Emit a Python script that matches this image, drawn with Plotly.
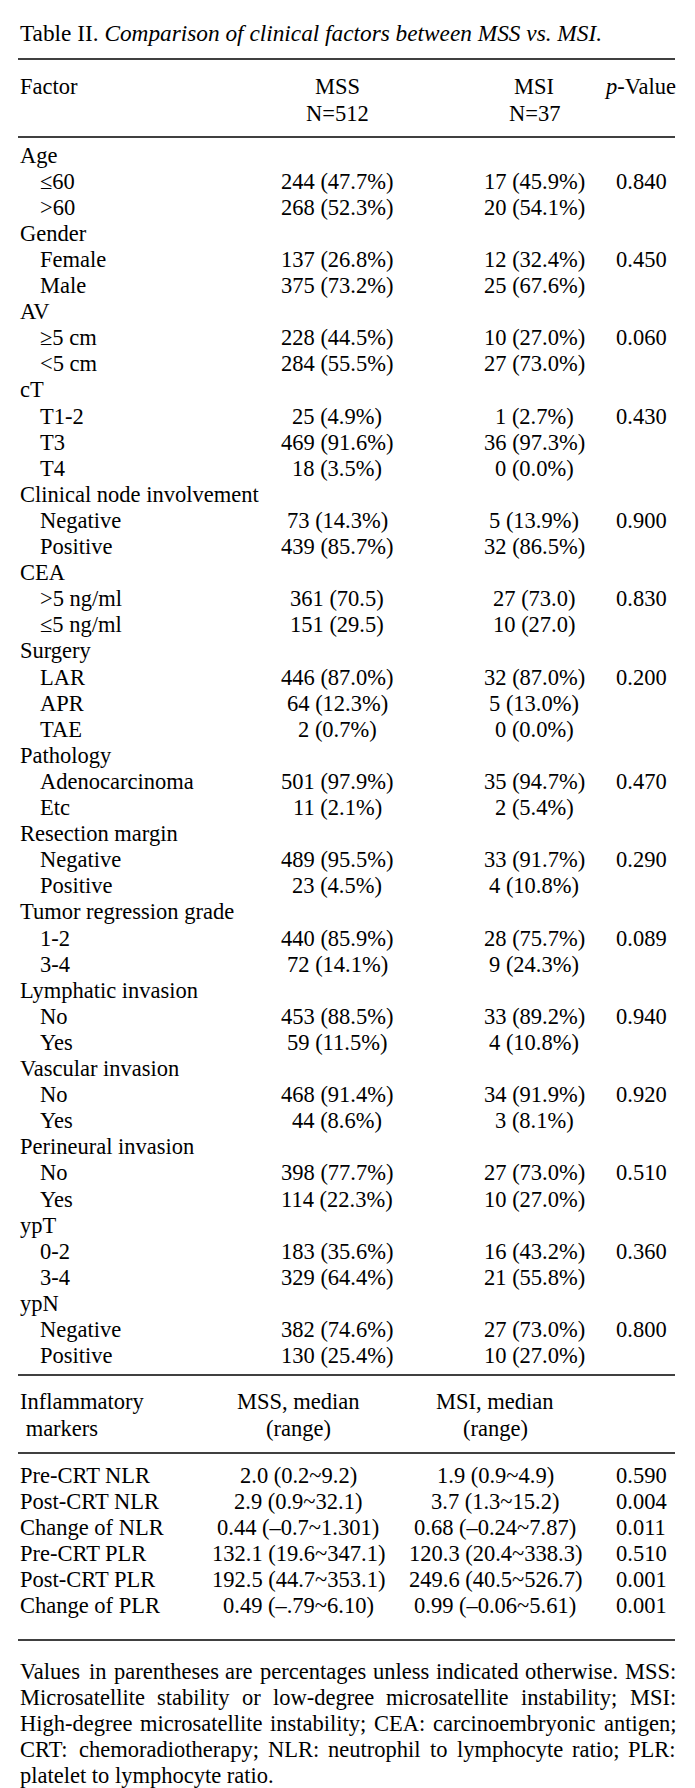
import plotly.graph_objects as go

# ---------------- data ----------------
title_plain = "Table II. "
title_italic = "Comparison of clinical factors between MSS vs. MSI."

header_factor = "Factor"
header_mss = ["MSS", "N=512"]
header_msi = ["MSI", "N=37"]
header_p = "<i>p</i>-Value"

factor_labels = ["Age", "≤60", ">60", "Gender", "Female", "Male", "AV", "≥5 cm", "<5 cm",
                 "cT", "T1-2", "T3", "T4", "Clinical node involvement", "Negative", "Positive",
                 "CEA", ">5 ng/ml", "≤5 ng/ml", "Surgery", "LAR", "APR", "TAE",
                 "Pathology", "Adenocarcinoma", "Etc", "Resection margin", "Negative", "Positive",
                 "Tumor regression grade", "1-2", "3-4", "Lymphatic invasion", "No", "Yes",
                 "Vascular invasion", "No", "Yes", "Perineural invasion", "No", "Yes",
                 "ypT", "0-2", "3-4", "ypN", "Negative", "Positive"]
is_group = [1, 0, 0, 1, 0, 0, 1, 0, 0,
            1, 0, 0, 0, 1, 0, 0,
            1, 0, 0, 1, 0, 0, 0,
            1, 0, 0, 1, 0, 0,
            1, 0, 0, 1, 0, 0,
            1, 0, 0, 1, 0, 0,
            1, 0, 0, 1, 0, 0]
mss_values = ["", "244 (47.7%)", "268 (52.3%)", "", "137 (26.8%)", "375 (73.2%)", "", "228 (44.5%)", "284 (55.5%)",
              "", "25 (4.9%)", "469 (91.6%)", "18 (3.5%)", "", "73 (14.3%)", "439 (85.7%)",
              "", "361 (70.5)", "151 (29.5)", "", "446 (87.0%)", "64 (12.3%)", "2 (0.7%)",
              "", "501 (97.9%)", "11 (2.1%)", "", "489 (95.5%)", "23 (4.5%)",
              "", "440 (85.9%)", "72 (14.1%)", "", "453 (88.5%)", "59 (11.5%)",
              "", "468 (91.4%)", "44 (8.6%)", "", "398 (77.7%)", "114 (22.3%)",
              "", "183 (35.6%)", "329 (64.4%)", "", "382 (74.6%)", "130 (25.4%)"]
msi_values = ["", "17 (45.9%)", "20 (54.1%)", "", "12 (32.4%)", "25 (67.6%)", "", "10 (27.0%)", "27 (73.0%)",
              "", "1 (2.7%)", "36 (97.3%)", "0 (0.0%)", "", "5 (13.9%)", "32 (86.5%)",
              "", "27 (73.0)", "10 (27.0)", "", "32 (87.0%)", "5 (13.0%)", "0 (0.0%)",
              "", "35 (94.7%)", "2 (5.4%)", "", "33 (91.7%)", "4 (10.8%)",
              "", "28 (75.7%)", "9 (24.3%)", "", "33 (89.2%)", "4 (10.8%)",
              "", "34 (91.9%)", "3 (8.1%)", "", "27 (73.0%)", "10 (27.0%)",
              "", "16 (43.2%)", "21 (55.8%)", "", "27 (73.0%)", "10 (27.0%)"]
p_values = ["", "0.840", "", "", "0.450", "", "", "0.060", "",
            "", "0.430", "", "", "", "0.900", "",
            "", "0.830", "", "", "0.200", "", "",
            "", "0.470", "", "", "0.290", "",
            "", "0.089", "", "", "0.940", "",
            "", "0.920", "", "", "0.510", "",
            "", "0.360", "", "", "0.800", ""]

infl_header = ["Inflammatory", " markers"]
infl_mss_header = ["MSS, median", "(range)"]
infl_msi_header = ["MSI, median", "(range)"]
marker_labels = ["Pre-CRT NLR", "Post-CRT NLR", "Change of NLR", "Pre-CRT PLR", "Post-CRT PLR", "Change of PLR"]
mss_median = ["2.0 (0.2~9.2)", "2.9 (0.9~32.1)", "0.44 (–0.7~1.301)", "132.1 (19.6~347.1)",
              "192.5 (44.7~353.1)", "0.49 (–.79~6.10)"]
msi_median = ["1.9 (0.9~4.9)", "3.7 (1.3~15.2)", "0.68 (–0.24~7.87)", "120.3 (20.4~338.3)",
              "249.6 (40.5~526.7)", "0.99 (–0.06~5.61)"]
marker_p = ["0.590", "0.004", "0.011", "0.510", "0.001", "0.001"]

footnote_lines = [
    "Values in parentheses are percentages unless indicated otherwise. MSS:",
    "Microsatellite stability or low-degree microsatellite instability; MSI:",
    "High-degree microsatellite instability; CEA: carcinoembryonic antigen;",
    "CRT: chemoradiotherapy; NLR: neutrophil to lymphocyte ratio; PLR:",
    "platelet to lymphocyte ratio.",
]

# ---------------- layout ----------------
W, H = 695, 1788
FONT = "Liberation Serif, Times New Roman, serif"
FS = 22.5
FS_TITLE = 23.3
X_LEFT, X_INDENT = 20, 40
X_RIGHT = 676
X_MSS, X_MSI, X_P = 337, 534, 641
X_MSS2, X_MSI2 = 298, 495
LINE_X0, LINE_X1 = 18, 675

# Times-Roman advance widths (1/1000 em) used to justify footnote lines
_TW = {" ": 250, ".": 250, ",": 250, ":": 278, ";": 278, "-": 333, "(": 333, ")": 333,
       "A": 722, "C": 667, "E": 611, "H": 722, "I": 333, "L": 611, "M": 889, "N": 722,
       "P": 556, "R": 667, "S": 556, "T": 611, "V": 722,
       "a": 444, "b": 500, "c": 444, "d": 500, "e": 444, "f": 333, "g": 500, "h": 500,
       "i": 278, "j": 278, "k": 500, "l": 278, "m": 778, "n": 500, "o": 500, "p": 500,
       "q": 500, "r": 333, "s": 389, "t": 278, "u": 500, "v": 500, "w": 722, "x": 500,
       "y": 500, "z": 444}


def text_width(s, size):
    return sum(_TW.get(c, 500) for c in s) * size / 1000.0


ann = []


def txt(x, y, s, anchor="left", size=FS):
    ann.append(dict(x=x, y=y, xref="x", yref="y", text=s, showarrow=False,
                    xanchor=anchor, yanchor="middle", align=anchor,
                    borderpad=0, borderwidth=0,
                    font=dict(family=FONT, size=size, color="black")))


# title
txt(X_LEFT, 33, title_plain + "<i>" + title_italic + "</i>", size=FS_TITLE)

# header
txt(X_LEFT, 86, header_factor)
txt(X_MSS, 86, header_mss[0], "center")
txt(X_MSS, 113, header_mss[1], "center")
txt(X_MSI, 86, header_msi[0], "center")
txt(X_MSI, 113, header_msi[1], "center")
txt(X_RIGHT, 86, header_p, "right")

# body
y0, step = 155, 26.1
for i, lab in enumerate(factor_labels):
    y = y0 + i * step
    txt(X_LEFT if is_group[i] else X_INDENT, y, lab)
    if mss_values[i]:
        txt(X_MSS, y, mss_values[i], "center")
    if msi_values[i]:
        txt(X_MSI, y, msi_values[i], "center")
    if p_values[i]:
        txt(X_P, y, p_values[i], "center")

# inflammatory header
txt(X_LEFT, 1401, infl_header[0])
txt(X_LEFT, 1428, infl_header[1])
txt(X_MSS2, 1401, infl_mss_header[0], "center")
txt(X_MSS2, 1428, infl_mss_header[1], "center")
txt(X_MSI2, 1401, infl_msi_header[0], "center")
txt(X_MSI2, 1428, infl_msi_header[1], "center")

y1, step2 = 1475, 26
for i, lab in enumerate(marker_labels):
    y = y1 + i * step2
    txt(X_LEFT, y, lab)
    txt(X_MSS2, y, mss_median[i], "center")
    txt(X_MSI2, y, msi_median[i], "center")
    txt(X_P, y, marker_p[i], "center")

# footnote (justified, last line left-aligned)
for i, line in enumerate(footnote_lines):
    y = 1671 + i * 26
    if i == len(footnote_lines) - 1:
        txt(X_LEFT, y, line)
        continue
    words = line.split(" ")
    widths = [text_width(w, FS) for w in words]
    gap = (X_RIGHT - X_LEFT - sum(widths)) / (len(words) - 1)
    x = X_LEFT
    for j, w in enumerate(words):
        if j == len(words) - 1:
            txt(X_RIGHT, y, w, "right")
        else:
            txt(x, y, w, "left")
        x += widths[j] + gap

# rules
shapes = []
for yy in [59, 137, 1375, 1453, 1640]:
    shapes.append(dict(type="line", xref="x", yref="y", x0=LINE_X0, x1=LINE_X1, y0=yy, y1=yy,
                       line=dict(color="black", width=1.6)))

fig = go.Figure()
fig.update_layout(
    width=W, height=H, margin=dict(l=0, r=0, t=0, b=0),
    paper_bgcolor="white", plot_bgcolor="white",
    xaxis=dict(range=[0, W], visible=False, fixedrange=True),
    yaxis=dict(range=[H, 0], visible=False, fixedrange=True),
    annotations=ann, shapes=shapes, showlegend=False,
)
fig.write_html("out.html", post_script="document.body.style.margin='0';",
               config={"displayModeBar": False})
